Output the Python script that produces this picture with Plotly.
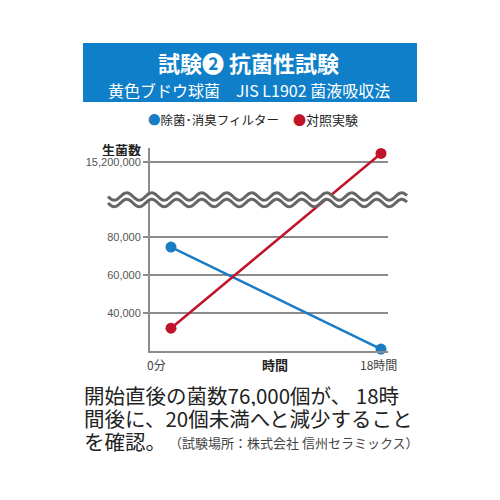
import numpy as np
import plotly.graph_objects as go

# データ
jikan = [0, 18]                          # 時間 (h)
filter_kinsu = [74700, 21000]            # 除菌・消臭フィルター
taisho_kinsu = [32000, 15650000]         # 対照実験
y_ticks = [40000, 60000, 80000, 15200000]
y_ticklabels = ["40,000", "60,000", "80,000", "15,200,000"]

AO = "#1a7dc4"
AKA = "#c0142a"
GRIS = "#8c8c8c"
JP = "Noto Sans CJK JP, Noto Sans, sans-serif"

# 縦軸を途中で省略する（波線の上は圧縮）
def escala(v):
    if v < 1000000:
        return v
    return 119474 + (v - 15200000) * 0.01

# 描画エリアのピクセル位置（画面座標）; ページの余白 8px を差し引く
OFF = 8
L, R, T, B = 150, 388, 148, 351

def px(x):
    return (x - L) / (R - L)

def py(y):
    return (B - y) / (B - T)

fig = go.Figure()

fig.add_trace(go.Scatter(
    x=jikan, y=[escala(v) for v in filter_kinsu], mode="lines+markers",
    line=dict(color=AO, width=2.5), marker=dict(color=AO, size=11),
    cliponaxis=False, showlegend=False
))
fig.add_trace(go.Scatter(
    x=jikan, y=[escala(v) for v in taisho_kinsu], mode="lines+markers",
    line=dict(color=AKA, width=2.5), marker=dict(color=AKA, size=11),
    cliponaxis=False, showlegend=False
))

# 波線（省略記号）
xs = np.linspace(108, 407, 300)
ola = 3.7 * np.sin((xs - 108) / 25 * 2 * np.pi)
arriba = 196.5 + ola
abajo = 203.0 + ola

def camino(xv, yv):
    return "M " + " L ".join(f"{px(a):.4f},{py(b):.4f}" for a, b in zip(xv, yv))

relleno = camino(xs, arriba) + " L " + " L ".join(
    f"{px(a):.4f},{py(b):.4f}" for a, b in zip(xs[::-1], abajo[::-1])) + " Z"

formas = [
    # タイトル帯
    dict(type="rect", xref="paper", yref="paper", x0=px(83), x1=px(417), y0=py(43), y1=py(102),
         fillcolor="#0f7fca", line=dict(width=0), layer="below"),
    dict(type="path", xref="paper", yref="paper", path=relleno,
         fillcolor="white", line=dict(width=0), layer="above"),
    dict(type="path", xref="paper", yref="paper", path=camino(xs, arriba),
         line=dict(color="#666666", width=3), layer="above"),
    dict(type="path", xref="paper", yref="paper", path=camino(xs, abajo),
         line=dict(color="#666666", width=3), layer="above"),
]

notas = [
    dict(text="<b>試験❷ 抗菌性試験</b>", x=px(248), y=py(62), font=dict(size=22, color="white", family=JP)),
    dict(text="黄色ブドウ球菌　JIS L1902 菌液吸収法", x=px(249), y=py(90), font=dict(size=16, color="white", family=JP)),
    dict(text=f"<span style='color:{AO}'>●</span>除菌･消臭フィルター", x=px(146), y=py(119),
         xanchor="left", font=dict(size=12.5, color="#222", family=JP)),
    dict(text=f"<span style='color:{AKA}'>●</span>対照実験", x=px(291), y=py(119),
         xanchor="left", font=dict(size=13, color="#222", family=JP)),
    dict(text="<b>生菌数</b>", x=px(121), y=py(148.5), height=14,
         font=dict(size=13, color="#222", family=JP)),
    dict(text="0分", x=px(156), y=py(364), font=dict(size=12, color="#444", family=JP)),
    dict(text="<b>時間</b>", x=px(275), y=py(364), font=dict(size=13, color="#222", family=JP)),
    dict(text="18時間", x=px(378), y=py(364), font=dict(size=12, color="#444", family=JP)),
    dict(text="開始直後の菌数76,000個が、 18時", x=px(82), y=py(395), xanchor="left", height=22,
         font=dict(size=20.5, color="#222", family=JP)),
    dict(text="間後に、20個未満へと減少すること", x=px(82), y=py(418), xanchor="left", height=22,
         font=dict(size=20.5, color="#222", family=JP)),
    dict(text="を確認。", x=px(82), y=py(441), xanchor="left", height=22,
         font=dict(size=20.5, color="#222", family=JP)),
    dict(text="（試験場所：株式会社 信州セラミックス）", x=px(421), y=py(442), xanchor="right",
         font=dict(size=13, color="#444", family=JP)),
]
for n in notas:
    n.update(xref="paper", yref="paper", showarrow=False)
    n.setdefault("xanchor", "center")
    n.setdefault("yanchor", "middle")

fig.update_layout(
    width=500 - OFF, height=500 - OFF,
    margin=dict(l=L - OFF, r=500 - R, t=T - OFF, b=500 - B),
    paper_bgcolor="white", plot_bgcolor="white",
    shapes=formas, annotations=notas,
    xaxis=dict(range=[-1.8, 18.6], showgrid=False, zeroline=False, showticklabels=False,
               showline=True, linecolor=GRIS, linewidth=2, fixedrange=True),
    yaxis=dict(range=[20000, 126842], tickvals=[escala(v) for v in y_ticks], ticktext=y_ticklabels,
               showgrid=True, gridcolor=GRIS, gridwidth=1.5, zeroline=False,
               showline=True, linecolor=GRIS, linewidth=2,
               ticks="outside", ticklen=5, tickcolor=GRIS, tickwidth=1.5,
               tickfont=dict(size=11, color="#555", family="Liberation Sans")),
)

fig.write_html("out.html")
